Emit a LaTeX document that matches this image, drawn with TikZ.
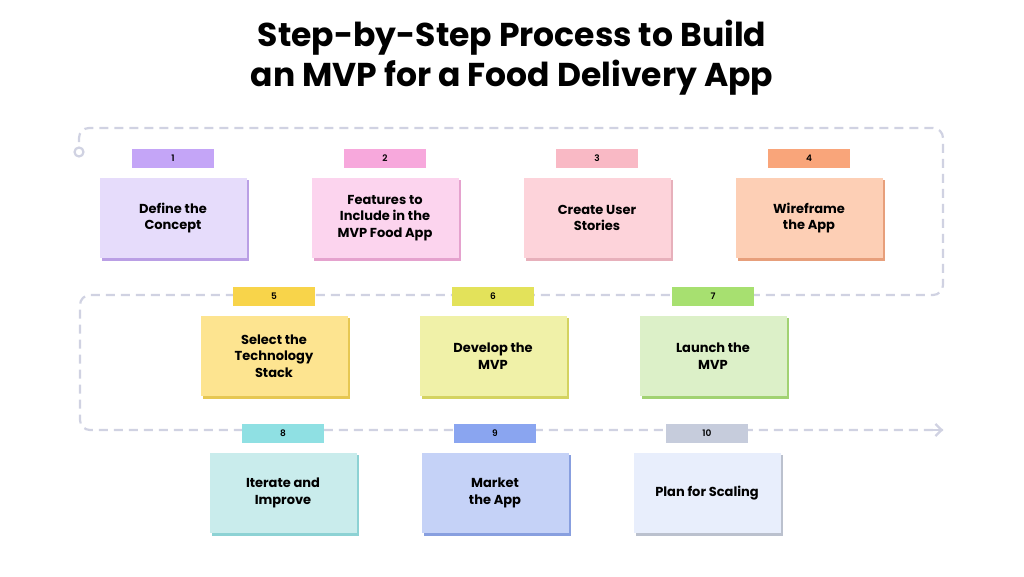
\documentclass[tikz,border=0pt]{standalone}
\usepackage{fontspec}
\setmainfont{Poppins}[UprightFont=* SemiBold,BoldFont=* Bold]
\usetikzlibrary{arrows.meta}
\definecolor{flowc}{HTML}{D0D2E2}
\begin{document}
\begin{tikzpicture}[x=1pt,y=-1pt,
  card/.style={minimum width=147pt,minimum height=80pt,align=center,font=\fontsize{13}{16.5}\selectfont\bfseries,inner sep=0pt},
  tape/.style={minimum width=82pt,minimum height=19pt,font=\fontsize{9}{10}\selectfont,inner sep=0pt},
  flow/.style={draw=flowc,line width=2.2pt,dash pattern=on 9pt off 6pt,rounded corners=10pt}]
\useasboundingbox (0,0) rectangle (1024,576);
\node[font=\fontsize{33}{40}\selectfont\bfseries,align=center] (title) at (512,58) {Step-by-Step Process to Build\\an MVP for a Food Delivery App};
\coordinate (s) at (79,142);
\draw[flow] (s) |- (943,128) |- (80,295) |- (943,430) coordinate (e);
\draw[draw=flowc,line width=2.2pt,-{Straight Barb[length=6pt,width=12pt]}] (930,430) -- (e);
\draw[draw=flowc,line width=2.2pt,fill=white] (79,152) circle (4.5pt);
\newcommand\stepcard[7]{% name, x, y, tape color, box color, number, text
  \fill[#4!85!gray] (#2-71,#3-38) rectangle (#2+76,#3+42.5);
  \node[card,fill=#5] (#1) at (#2,#3) {#7};
  \node[tape,fill=#4] (t#1) at (#2,#3-60) {#6};
}
\definecolor{ta}{HTML}{C4A5F7}\definecolor{ba}{HTML}{E6DCFB}
\definecolor{tb}{HTML}{F7A8DC}\definecolor{bb}{HTML}{FCD4EE}
\definecolor{tc}{HTML}{F9B9C5}\definecolor{bc}{HTML}{FDD3DA}
\definecolor{td}{HTML}{F9A57A}\definecolor{bd}{HTML}{FDCFB5}
\definecolor{te}{HTML}{F8D44A}\definecolor{be}{HTML}{FDE490}
\definecolor{tf}{HTML}{E3E25A}\definecolor{bf}{HTML}{F0F1A8}
\definecolor{tg}{HTML}{A7E070}\definecolor{bg}{HTML}{DCF0C8}
\definecolor{th}{HTML}{8FE0E3}\definecolor{bh}{HTML}{C9ECEC}
\definecolor{ti}{HTML}{8AA5F0}\definecolor{bi}{HTML}{C5D2F7}
\definecolor{tj}{HTML}{C6CCDC}\definecolor{bj}{HTML}{E8EEFC}
\stepcard{c1}{173}{218}{ta}{ba}{1}{Define the\\Concept}
\stepcard{c2}{385}{218}{tb}{bb}{2}{Features to\\Include in the\\MVP Food App}
\stepcard{c3}{597}{218}{tc}{bc}{3}{Create User\\Stories}
\stepcard{c4}{809}{218}{td}{bd}{4}{Wireframe\\the App}
\stepcard{c5}{274}{356}{te}{be}{5}{Select the\\Technology\\Stack}
\stepcard{c6}{493}{356}{tf}{bf}{6}{Develop the\\MVP}
\stepcard{c7}{713}{356}{tg}{bg}{7}{Launch the\\MVP}
\stepcard{c8}{283}{493}{th}{bh}{8}{Iterate and\\Improve}
\stepcard{c9}{495}{493}{ti}{bi}{9}{Market\\the App}
\stepcard{c10}{707}{493}{tj}{bj}{10}{Plan for Scaling}
\end{tikzpicture}
\end{document}
